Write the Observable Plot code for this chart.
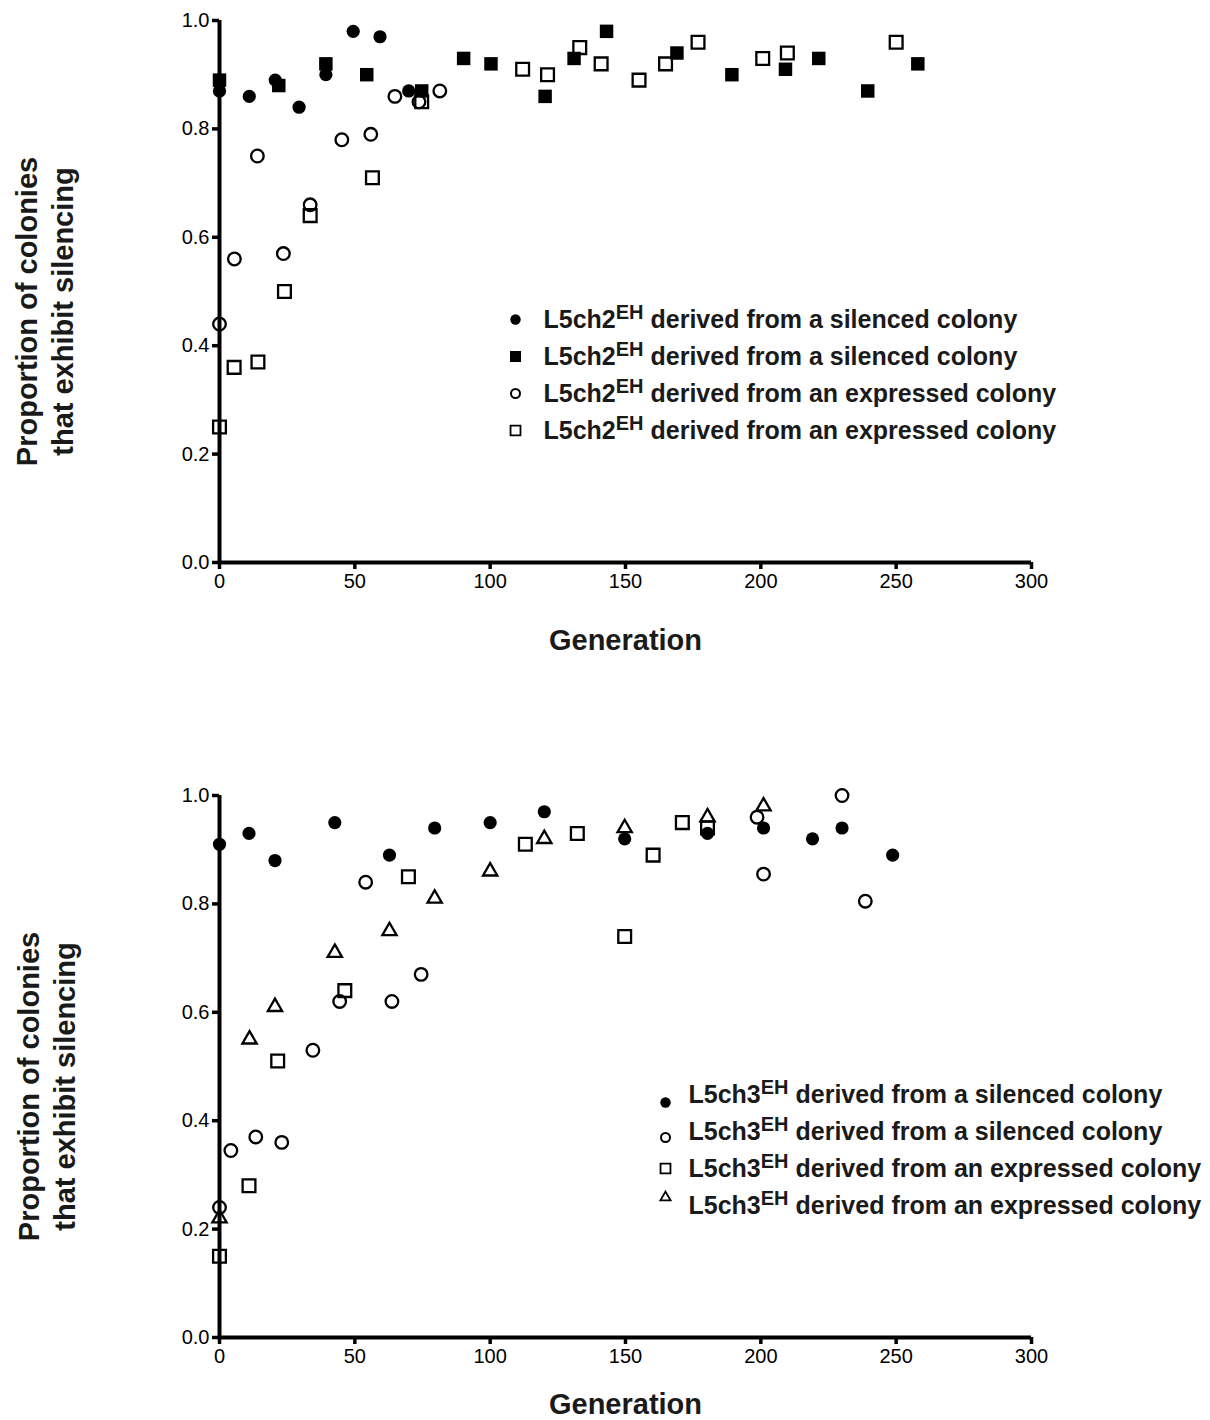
<!DOCTYPE html>
<html>
<head>
<meta charset="utf-8">
<script src="https://cdn.jsdelivr.net/npm/d3@7"></script>
<script src="https://cdn.jsdelivr.net/npm/@observablehq/plot@0.6"></script>
<style>
  body { margin: 0; background: #fff; font-family: "Liberation Sans", Arial, sans-serif; }
  #page { width: 1210px; }
  .panel { position: relative; width: 1210px; }
  .legend { position: absolute; }
  svg { overflow: visible; }
</style>
</head>
<body>
<div id="page">
  <div id="top" class="panel"></div>
  <div id="bottom" class="panel"></div>
</div>
<script>
// ---------------- DATA ----------------
const xTicks = [0, 50, 100, 150, 200, 250, 300];
const yTicks = [0, 0.2, 0.4, 0.6, 0.8, 1.0];
const xTitle = "Generation";
const yTitle = "Proportion of colonies\nthat exhibit silencing";

// Top panel: L5ch2EH
const topSilCircleGen = [0, 11, 20.6, 29.4, 39.3, 49.4, 59.3, 69.9];
const topSilCircleVal = [0.87, 0.86, 0.89, 0.84, 0.90, 0.98, 0.97, 0.87];
const topSilSquareGen = [0, 21.9, 39.3, 54.4, 74.7, 90.2, 100.3, 120.3, 131, 143, 169, 189.3, 209.1, 221.4, 239.5, 258];
const topSilSquareVal = [0.89, 0.88, 0.92, 0.90, 0.87, 0.93, 0.92, 0.86, 0.93, 0.98, 0.94, 0.90, 0.91, 0.93, 0.87, 0.92];
const topExpCircleGen = [0, 5.5, 14, 23.6, 33.5, 45.2, 55.9, 64.8, 73.7, 81.4];
const topExpCircleVal = [0.44, 0.56, 0.75, 0.57, 0.66, 0.78, 0.79, 0.86, 0.85, 0.87];
const topExpSquareGen = [0, 5.4, 14.2, 24, 33.5, 56.5, 74.7, 112, 121.2, 133.1, 141, 155, 164.8, 176.8, 200.7, 209.8, 250];
const topExpSquareVal = [0.25, 0.36, 0.37, 0.50, 0.64, 0.71, 0.85, 0.91, 0.90, 0.95, 0.92, 0.89, 0.92, 0.96, 0.93, 0.94, 0.96];
const topLegendLabels = [
  "L5ch2EH derived from a silenced colony",
  "L5ch2EH derived from a silenced colony",
  "L5ch2EH derived from an expressed colony",
  "L5ch2EH derived from an expressed colony"
];

// Bottom panel: L5ch3EH
const botSilFilledGen = [0, 10.9, 20.5, 42.6, 62.8, 79.5, 100, 120, 149.7, 180.3, 201, 219.1, 230, 248.7];
const botSilFilledVal = [0.91, 0.93, 0.88, 0.95, 0.89, 0.94, 0.95, 0.97, 0.92, 0.93, 0.94, 0.92, 0.94, 0.89];
const botSilOpenGen = [0, 4.2, 13.4, 23, 34.5, 44.4, 54, 63.7, 74.5, 198.6, 201, 230, 238.6];
const botSilOpenVal = [0.24, 0.345, 0.37, 0.36, 0.53, 0.62, 0.84, 0.62, 0.67, 0.96, 0.855, 1.0, 0.805];
const botExpSquareGen = [0, 10.9, 21.5, 46.3, 69.8, 113, 132.2, 149.7, 160.2, 171, 180.3];
const botExpSquareVal = [0.15, 0.28, 0.51, 0.64, 0.85, 0.91, 0.93, 0.74, 0.89, 0.95, 0.94];
const botExpTriGen = [0, 11.1, 20.5, 42.6, 62.8, 79.5, 100, 120, 149.7, 180.3, 201];
const botExpTriVal = [0.22, 0.55, 0.61, 0.71, 0.75, 0.81, 0.86, 0.92, 0.94, 0.96, 0.98];
const botLegendLabels = [
  "L5ch3EH derived from a silenced colony",
  "L5ch3EH derived from a silenced colony",
  "L5ch3EH derived from an expressed colony",
  "L5ch3EH derived from an expressed colony"
];

// ---------------- STYLES ----------------
const FONT = "Liberation Sans, Arial, Helvetica, sans-serif";
const ink = "#000";
const symStyles = {
  filledCircle: {symbol: "circle", fill: ink, stroke: "none", r: 6.6},
  filledSquare: {symbol: "square", fill: ink, stroke: "none", r: 7.6},
  openCircle: {symbol: "circle", fill: "none", stroke: ink, strokeWidth: 2.3, r: 6.3},
  openSquare: {symbol: "square", fill: "none", stroke: ink, strokeWidth: 2.3, r: 7.2},
  openTriangle: {symbol: "triangle", fill: "none", stroke: ink, strokeWidth: 2.3, r: 5.3, strokeLinejoin: "miter"}
};
const legendSymStyles = {
  filledCircle: {symbol: "circle", fill: ink, stroke: "none", r: 5.2},
  filledSquare: {symbol: "square", fill: ink, stroke: "none", r: 6.2},
  openCircle: {symbol: "circle", fill: "none", stroke: ink, strokeWidth: 2, r: 4.5},
  openSquare: {symbol: "square", fill: "none", stroke: ink, strokeWidth: 1.8, r: 5.6},
  openTriangle: {symbol: "triangle", fill: "none", stroke: ink, strokeWidth: 1.8, r: 3.8}
};

const zipPts = (g, v) => g.map((d, i) => ({gen: d, val: v[i]}));

function makePanel({height, marginTop, marginBottom, series, xTitleDy, yTitleDx, yTitleDy}) {
  return Plot.plot({
    width: 1210,
    height,
    marginLeft: 219,
    marginRight: 179,
    marginTop,
    marginBottom,
    x: {domain: [0, 300]},
    y: {domain: [0, 1]},
    style: {fontFamily: FONT, fontSize: "20px", color: ink, background: "#fff", overflow: "visible"},
    marks: [
      Plot.axisX({ticks: xTicks, tickSize: 7, tickPadding: 4, strokeWidth: 3.5, label: null, fontSize: 20}),
      Plot.axisY({ticks: yTicks, tickSize: 7, tickPadding: 3, strokeWidth: 3.5, label: null, tickFormat: d3.format(".1f"), fontSize: 20}),
      Plot.ruleX([0], {stroke: ink, strokeWidth: 4}),
      Plot.ruleY([0], {stroke: ink, strokeWidth: 4}),
      ...series.map(s => Plot.dot(zipPts(s.gen, s.val), {x: "gen", y: "val", ...symStyles[s.style]})),
      Plot.text([xTitle], {text: d => d, frameAnchor: "bottom", textAnchor: "middle", lineAnchor: "middle", dy: xTitleDy, fontSize: 29, fontWeight: "bold", fill: "#1a1a1a"}),
      Plot.text([yTitle], {text: d => d, frameAnchor: "left", textAnchor: "middle", lineAnchor: "middle", rotate: -90, dx: yTitleDx, dy: yTitleDy, fontSize: 29, fontWeight: "bold", lineHeight: 1.24, fill: "#1a1a1a"})
    ]
  });
}

function makeLegend({labels, styles, symDx, textDx, width, symDy}) {
  const rows = labels.map((label, i) => ({id: i, label}));
  const svg = Plot.plot({
    width,
    height: 151,
    margin: 0,
    y: {type: "point", domain: rows.map(r => r.id), padding: 0.5, axis: null},
    style: {fontFamily: FONT, background: "transparent", overflow: "visible"},
    marks: [
      ...rows.map((r, i) => Plot.dot([r], {y: "id", frameAnchor: "left", dx: symDx, dy: symDy ? symDy[i] : 0, ...legendSymStyles[styles[i]]})),
      Plot.text(rows, {y: "id", text: "label", frameAnchor: "left", textAnchor: "start", lineAnchor: "middle", dx: textDx, fontSize: 25, fontWeight: "bold", fill: "#1a1a1a"})
    ]
  });
  const ns = "http://www.w3.org/2000/svg";
  svg.querySelectorAll('g[aria-label="text"] text').forEach(t => {
    const m = t.textContent.match(/^(L5ch\d)(EH)(.*)$/);
    if (!m) return;
    t.textContent = "";
    const a = document.createElementNS(ns, "tspan"); a.textContent = m[1];
    const b = document.createElementNS(ns, "tspan"); b.textContent = m[2];
    b.setAttribute("dy", "-9"); b.setAttribute("font-size", "20");
    const c = document.createElementNS(ns, "tspan"); c.textContent = m[3];
    c.setAttribute("dy", "9");
    t.append(a, b, c);
  });
  svg.classList.add("legend");
  return svg;
}

// ---------------- TOP ----------------
const topDiv = document.getElementById("top");
topDiv.append(makePanel({
  height: 700, marginTop: 20, marginBottom: 138,
  xTitleDy: 78, yTitleDx: -176, yTitleDy: 20,
  series: [
    {gen: topSilCircleGen, val: topSilCircleVal, style: "filledCircle"},
    {gen: topSilSquareGen, val: topSilSquareVal, style: "filledSquare"},
    {gen: topExpCircleGen, val: topExpCircleVal, style: "openCircle"},
    {gen: topExpSquareGen, val: topExpSquareVal, style: "openSquare"}
  ]
}));
const topLegend = makeLegend({
  labels: topLegendLabels,
  styles: ["filledCircle", "filledSquare", "openCircle", "openSquare"],
  symDx: 12, textDx: 40, width: 580
});
topLegend.style.left = "503px"; topLegend.style.top = "299px";
topDiv.append(topLegend);

// ---------------- BOTTOM ----------------
const botDiv = document.getElementById("bottom");
botDiv.append(makePanel({
  height: 720, marginTop: 95, marginBottom: 83,
  xTitleDy: 67, yTitleDx: -174, yTitleDy: 20,
  series: [
    {gen: botSilFilledGen, val: botSilFilledVal, style: "filledCircle"},
    {gen: botSilOpenGen, val: botSilOpenVal, style: "openCircle"},
    {gen: botExpSquareGen, val: botExpSquareVal, style: "openSquare"},
    {gen: botExpTriGen, val: botExpTriVal, style: "openTriangle"}
  ]
}));
const botLegend = makeLegend({
  labels: botLegendLabels,
  styles: ["filledCircle", "openCircle", "openSquare", "openTriangle"],
  symDx: 12, textDx: 35, width: 557, symDy: [8, 6, 0, -8]
});
botLegend.style.left = "653px"; botLegend.style.top = "374px";
botDiv.append(botLegend);
</script>
</body>
</html>
